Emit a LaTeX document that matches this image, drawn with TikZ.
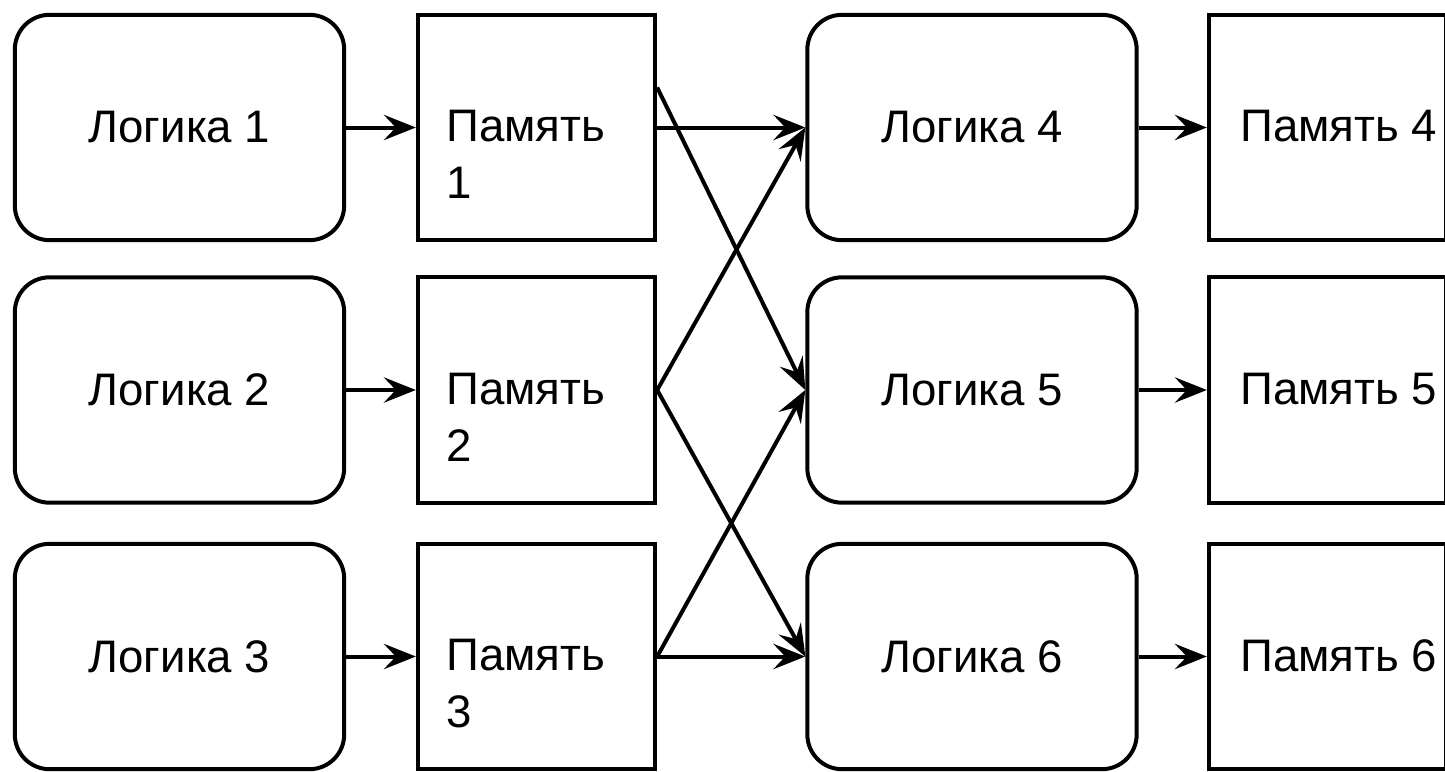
\documentclass[tikz,border=0pt]{standalone}
\usepackage{fontspec}
\setmainfont{Liberation Sans}
\usetikzlibrary{arrows.meta}

\begin{document}
\begin{tikzpicture}[x=0.75pt,y=0.75pt,yscale=-1,xscale=1,
  logic/.style={draw, line width=3pt, rounded corners=26pt, minimum width=247pt, minimum height=169pt, inner sep=0pt, font=\fontsize{34.2}{43}\selectfont},
  memory/.style={draw, line width=3pt, minimum width=178pt, minimum height=169pt, inner sep=0pt},
  memtext/.style={anchor=north west, inner sep=0pt, align=left, font=\fontsize{34.2}{43}\selectfont},
  link/.style={line width=3pt, -{Stealth[length=24pt, width=19pt, inset=9pt]}}]
\useasboundingbox (0,0) rectangle (1445,771);

% Logic boxes
\node [logic] (l1) at (179.5,127.5) {Логика 1};
\node [logic] (l2) at (179.5,390) {Логика 2};
\node [logic] (l3) at (179.5,656.5) {Логика 3};
\node [logic] (l4) at (972,127.5) {Логика 4};
\node [logic] (l5) at (972,390) {Логика 5};
\node [logic] (l6) at (972,656.5) {Логика 6};
% Memory boxes
\node [memory] (m1) at (536.5,127.5) {};
\node [memory] (m2) at (536.5,390) {};
\node [memory] (m3) at (536.5,656.5) {};
\node [memory] (m4) at (1327.5,127.5) {};
\node [memory] (m5) at (1327.5,390) {};
\node [memory] (m6) at (1327.5,656.5) {};
% Memory texts
\node [memtext] (t1) at (446,110) {Память\\1};
\node [memtext] (t2) at (446,373) {Память\\2};
\node [memtext] (t3) at (446,639) {Память\\3};
\node [memtext] (t4) at (1240,110) {Память 4};
\node [memtext] (t5) at (1240,373) {Память 5};
\node [memtext] (t6) at (1240,639) {Память 6};

% Connections
\coordinate (m1out) at ([yshift=-30pt]m1.east);
\draw [link] (l1) -- (m1);
\draw [link] (l2) -- (m2);
\draw [link] (l3) -- (m3);
\draw [link] (m1.east) -- (l4.west);
\draw [link] (m1out) -- (l5.west);
\draw [link] (m2.east) -- (l4.west);
\draw [link] (m2.east) -- (l6.west);
\draw [link] (m3.east) -- (l5.west);
\draw [link] (m3.east) -- (l6.west);
\draw [link] (l4) -- (m4);
\draw [link] (l5) -- (m5);
\draw [link] (l6) -- (m6);

\end{tikzpicture}
\end{document}
